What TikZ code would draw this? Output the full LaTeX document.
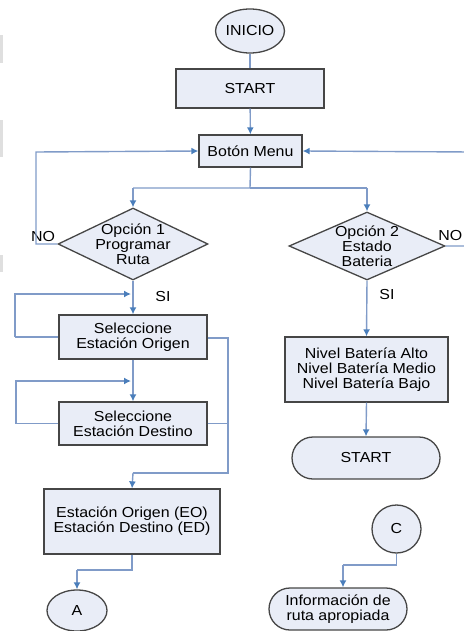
\documentclass[tikz,border=0pt]{standalone}
\usepackage{fontspec}
\setmainfont{Liberation Sans}[FakeStretch=1.1]
\usetikzlibrary{shapes.geometric,shapes.misc,arrows.meta}
\definecolor{boxfill}{RGB}{233,237,247}
\definecolor{boxline}{RGB}{70,70,70}
\definecolor{conn}{RGB}{128,155,200}
\definecolor{tipc}{RGB}{74,126,187}
\tikzset{
  base/.style={draw=boxline, fill=boxfill, line width=1.3pt, align=center, inner sep=0pt,
    font=\fontsize{14.5}{14.8}\selectfont},
  proc/.style={base, rectangle},
  circ/.style={base, ellipse},
  dec/.style={base, diamond},
  term/.style={base, rounded rectangle},
  lbl/.style={font=\fontsize{14.5}{14.8}\selectfont, inner sep=0pt},
  conline/.style={draw=conn, line width=1.4pt},
  arr/.style={conline, -{Latex[length=7pt,width=7pt,color=tipc]}},
}
\begin{document}
\begin{tikzpicture}[x=1pt,y=-1pt]
\useasboundingbox (0,0) rectangle (463,631);
% faint edge marks
\fill[gray!25] (0,35) rectangle (2.5,63);
\fill[gray!25] (0,120) rectangle (2.5,157);
\fill[gray!25] (0,255) rectangle (2.5,272);
% nodes
\node[circ, minimum width=61pt, minimum height=44pt] (inicio) at (250,31) {INICIO};
\node[proc, minimum width=148pt, minimum height=39pt] (start1) at (250,88.5) {START};
\node[proc, minimum width=103pt, minimum height=32pt] (menu) at (250.5,151) {Botón Menu};
\node[dec, minimum width=150pt, minimum height=72pt, aspect=2.08, inner ysep=-4pt] (d1) at (133,244) {Opción 1\\Programar\\Ruta};
\node[dec, minimum width=156pt, minimum height=68pt, aspect=2.3, inner ysep=-1.5pt] (d2) at (367,246) {Opción 2\\Estado\\Bateria};
\node[proc, minimum width=148pt, minimum height=44pt] (orig) at (133,337) {Seleccione\\Estación Origen};
\node[proc, minimum width=148pt, minimum height=43pt] (dest) at (133,423.5) {Seleccione\\Estación Destino};
\node[proc, minimum width=176pt, minimum height=65pt] (eo) at (132,521.5) {Estación Origen (EO)\\Estación Destino (ED)};
\node[circ, minimum width=60pt, minimum height=41pt] (A) at (77,610.5) {A};
\node[proc, minimum width=163pt, minimum height=65pt] (bat) at (366.5,369.5) {Nivel Batería Alto\\Nivel Batería Medio\\Nivel Batería Bajo};
\node[term, minimum width=148pt, minimum height=42pt] (start2) at (366,458) {START};
\node[circ, minimum width=49pt, minimum height=48pt] (C) at (396.5,529) {C};
\node[term, minimum width=138pt, minimum height=42pt] (info) at (338,609) {Información de\\ruta apropiada};
% labels
\node[lbl] (no1) at (43,237) {NO};
\node[lbl, anchor=east] (no2) at (462.5,236) {NO};
\node[lbl] (si1) at (163,297) {SI};
\node[lbl] (si2) at (387,295) {SI};
% coordinates
\coordinate (split) at (250,188);
\coordinate (sl) at (133,188);
\coordinate (sr) at (367,188);
\coordinate (lnoa) at (36,244);
\coordinate (lnob) at (36,152);
\coordinate (rnoa) at (470,246);
\coordinate (rnob) at (470,152);
\coordinate (o1) at (15,337);
\coordinate (o2) at (15,294);
\coordinate (o3) at (131,294);
\coordinate (e1) at (16,423.5);
\coordinate (e2) at (16,381);
\coordinate (e3) at (131,381);
\coordinate (r1) at (228,338);
\coordinate (r2) at (228,473);
\coordinate (r3) at (133,473);
\coordinate (a1) at (132,570);
\coordinate (a2) at (77,570);
\coordinate (c1) at (396.5,565);
\coordinate (c2) at (343,565);
% connectors
\draw[conline] (inicio) -- (start1);
\draw[arr] (start1) -- (menu);
\draw[conline] (menu.south) -- (split) -- (sl);
\draw[conline] (split) -- (sr);
\draw[arr] (sl) -- (d1.north);
\draw[arr] (sr) -- (d2.north);
\draw[arr] (d1.west) -- (lnoa) -- (lnob) -- (menu.west);
\draw[arr] (d2.east) -- (rnoa) -- (rnob) -- (menu.east);
\draw[arr] (d1.south) -- (orig.north);
\draw[arr] (o1) -- (o2) -- (o3);
\draw[conline] (orig.west) -- (o1);
\draw[arr] (orig.south) -- (dest.north);
\draw[arr] (e1) -- (e2) -- (e3);
\draw[conline] (dest.west) -- (e1);
\draw[conline] (orig.east |- r1) -- (r1) -- (r2) -- (r3);
\draw[arr] (r3) -- (eo.north);
\draw[conline] (dest.east) -- (dest.east -| r1);
\draw[conline] (eo.south) -- (a1) -- (a2);
\draw[arr] (a2) -- (A.north);
\draw[arr] (d2.south) -- (bat.north);
\draw[arr] (bat.south) -- (start2.north);
\draw[conline] (C.south) -- (c1) -- (c2);
\draw[arr] (c2) -- (c2 |- info.north);
\end{tikzpicture}
\end{document}
